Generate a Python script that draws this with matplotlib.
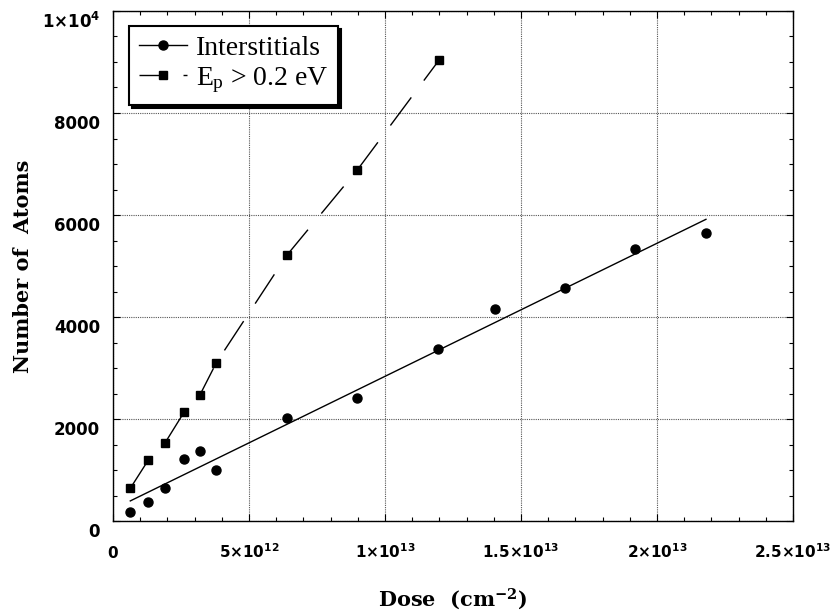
import numpy as np
import matplotlib
matplotlib.use('Agg')
import matplotlib.pyplot as plt
from matplotlib.ticker import MultipleLocator
from matplotlib.transforms import ScaledTranslation
from matplotlib.lines import Line2D

plt.rcParams['mathtext.fontset'] = 'custom'
plt.rcParams['mathtext.rm'] = 'DejaVu Serif:bold'
plt.rcParams['mathtext.it'] = 'Liberation Serif'
plt.rcParams['mathtext.sf'] = 'DejaVu Sans:bold'
plt.rcParams['mathtext.bf'] = 'DejaVu Sans:bold'

# ---- data ----
dose_int = np.array([0.636, 1.30, 1.91, 2.61, 3.20, 3.80, 6.40, 8.97, 11.96,
                     14.03, 16.6, 19.2, 21.8]) * 1e12
n_int = np.array([171, 373, 653, 1210, 1373, 1000, 2025, 2406, 3373,
                  4163, 4563, 5333, 5647])
dose_ep = np.array([0.636, 1.30, 1.91, 2.61, 3.20, 3.80, 6.40, 8.98, 11.99]) * 1e12
n_ep = np.array([641, 1196, 1529, 2131, 2476, 3104, 5216, 6882, 9039])

xticks = [0, 5e12, 1e13, 1.5e13, 2e13, 2.5e13]
xticklabels = ['0', r'$\mathsf{5{\times}10^{12}}$', r'$\mathsf{1{\times}10^{13}}$',
               r'$\mathsf{1.5{\times}10^{13}}$', r'$\mathsf{2{\times}10^{13}}$',
               r'$\mathsf{2.5{\times}10^{13}}$']
yticks = [0, 2000, 4000, 6000, 8000, 10000]
yticklabels = ['0', '2000', '4000', '6000', '8000', r'$\mathsf{1{\times}10^{4}}$']
label_int = 'Interstitials'
label_ep = r'$E_p$ > 0.2 eV'

fig = plt.figure(figsize=(8.32, 6.16), dpi=100)
ax = fig.add_axes([113/832, 1 - 521/616, 680/832, 510/616])

# fit line for interstitials
coef = np.polyfit(dose_int, n_int, 1)
xs = np.array([dose_int.min(), dose_int.max()])
ax.plot(xs, np.polyval(coef, xs), '-', color='black', lw=1.0, zorder=3)
ax.plot(dose_int, n_int, 'o', color='black', ms=6.5, zorder=4)

dash = (0, (25.2, 15.1))
ax.plot(dose_ep, n_ep, color='black', lw=1.0, linestyle=dash, zorder=3)
ax.plot(dose_ep, n_ep, 's', color='black', ms=6.3, zorder=4)

ax.set_xlim(0, 2.5e13)
ax.set_ylim(0, 10000)

ax.xaxis.set_minor_locator(MultipleLocator(1e12))
ax.yaxis.set_minor_locator(MultipleLocator(500))
ax.tick_params(which='both', direction='in', top=True, right=True, width=0.8)
ax.tick_params(which='major', length=5)
ax.tick_params(which='minor', length=3)
ax.tick_params(axis='x', which='major', pad=26.6, labelsize=11)
ax.tick_params(axis='y', which='major', pad=9.4, labelsize=12)

ax.set_xticks(xticks, xticklabels, fontfamily='DejaVu Sans', fontweight='bold')
ax.set_yticks(yticks, yticklabels, fontfamily='DejaVu Sans', fontweight='bold')
for lab in ax.get_xticklabels():
    lab.set_verticalalignment('baseline')
off = ScaledTranslation(0, -9/100, fig.dpi_scale_trans)
for lab in ax.get_yticklabels():
    lab.set_transform(lab.get_transform() + off)

for s in ax.spines.values():
    s.set_linewidth(1.0)

ax.grid(True, which='major', color='#555555', linestyle=(0, (1, 1)), linewidth=0.8)
ax.set_axisbelow(True)

ax.set_xlabel(r'Dose  (cm$^{-2}$)', fontfamily='DejaVu Serif', fontweight='bold', fontsize=15)
ax.xaxis.set_label_coords(0.5, (521 - 605) / 510)
ax.xaxis.label.set_verticalalignment('baseline')
ax.set_ylabel('Number of  Atoms', fontfamily='DejaVu Serif', fontweight='bold', fontsize=15)
ax.yaxis.set_label_coords((23 - 113) / 680, 0.5)
ax.yaxis.label.set_verticalalignment('center')

h1 = Line2D([], [], color='black', lw=1.0, marker='o', ms=6.5)
h2 = Line2D([], [], color='black', lw=1.0, marker='s', ms=6.3, linestyle=(8.6, (25.2, 15.1)))
leg = ax.legend([h1, h2], [label_int, label_ep], loc='upper left',
                bbox_to_anchor=(16/680, 1 - 15/510), borderaxespad=0,
                prop={'family': 'Liberation Serif', 'size': 20},
                handlelength=1.73, handletextpad=0.32, borderpad=0.35,
                labelspacing=0.15, fancybox=False, framealpha=1,
                edgecolor='black', shadow={'color': 'black', 'alpha': 1})
leg.get_frame().set_linewidth(1.5)
leg.set_zorder(5)

fig.savefig('out.png', dpi=100)
